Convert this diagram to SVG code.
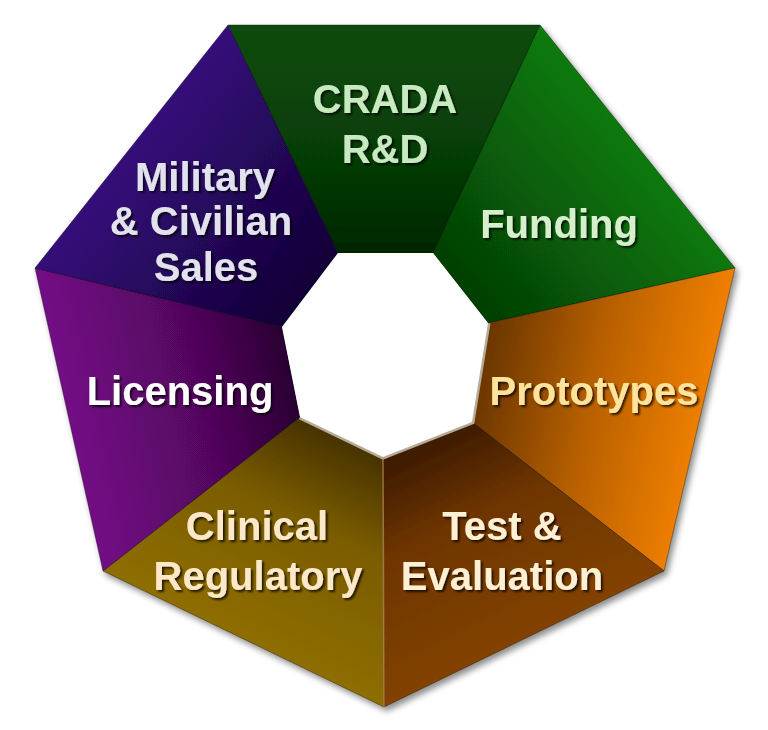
<svg xmlns="http://www.w3.org/2000/svg" width="768" height="730" viewBox="0 0 768 730">
  <defs>
    <linearGradient id="gCrada" gradientUnits="userSpaceOnUse" x1="384" y1="25" x2="385" y2="253">
      <stop offset="0" stop-color="#0a4c0a"/><stop offset="0.6" stop-color="#063c06"/><stop offset="1" stop-color="#012601"/>
    </linearGradient>
    <linearGradient id="gFund" gradientUnits="userSpaceOnUse" x1="660" y1="120" x2="455" y2="295">
      <stop offset="0" stop-color="#0a820a"/><stop offset="1" stop-color="#053c05"/>
    </linearGradient>
    <linearGradient id="gProto" gradientUnits="userSpaceOnUse" x1="705" y1="420" x2="480" y2="372">
      <stop offset="0" stop-color="#f08000"/><stop offset="0.5" stop-color="#b86000"/><stop offset="1" stop-color="#6a3600"/>
    </linearGradient>
    <linearGradient id="gTest" gradientUnits="userSpaceOnUse" x1="524" y1="639" x2="428" y2="440">
      <stop offset="0" stop-color="#824200"/><stop offset="0.6" stop-color="#6e3500"/><stop offset="1" stop-color="#3c1a00"/>
    </linearGradient>
    <linearGradient id="gClin" gradientUnits="userSpaceOnUse" x1="243" y1="639" x2="342" y2="437">
      <stop offset="0" stop-color="#8e6e00"/><stop offset="0.6" stop-color="#7a5c00"/><stop offset="1" stop-color="#463200"/>
    </linearGradient>
    <linearGradient id="gLic" gradientUnits="userSpaceOnUse" x1="69" y1="420" x2="291" y2="372">
      <stop offset="0" stop-color="#730a85"/><stop offset="0.6" stop-color="#52065e"/><stop offset="1" stop-color="#2a0032"/>
    </linearGradient>
    <linearGradient id="gMil" gradientUnits="userSpaceOnUse" x1="120" y1="140" x2="310" y2="290">
      <stop offset="0" stop-color="#380b7e"/><stop offset="1" stop-color="#110336"/>
    </linearGradient>
    <filter id="shadow" x="-10%" y="-10%" width="120%" height="125%">
      <feDropShadow dx="3" dy="4" stdDeviation="3" flood-color="#000" flood-opacity="0.45"/>
    </filter>
    <filter id="tshadow" x="-10%" y="-20%" width="120%" height="150%">
      <feDropShadow dx="2" dy="2" stdDeviation="1.2" flood-color="#000" flood-opacity="0.75"/>
    </filter>
  </defs>
  <style>
    .seg { stroke: #000; stroke-opacity: 0.35; stroke-width: 1; stroke-linejoin: round; }
    .lbl { font-family: "Liberation Sans", Arial, sans-serif; font-weight: bold; font-size: 40px; text-anchor: middle; filter: url(#tshadow); }
  </style>
  <rect width="768" height="730" fill="#fff"/>
  <g filter="url(#shadow)">
    <g id="crada">
      <polygon class="seg" points="228,25 540,25 433,253 338,253" fill="url(#gCrada)"/>
    </g>
    <g id="funding">
      <polygon class="seg" points="540,25 735,268 488,323 433,253" fill="url(#gFund)"/>
    </g>
    <g id="prototypes">
      <polygon class="seg" points="735,268 664,571 472,422 488,323" fill="url(#gProto)"/>
    </g>
    <g id="test">
      <polygon class="seg" points="664,571 384,707 383,457 472,422" fill="url(#gTest)"/>
    </g>
    <g id="clinical">
      <polygon class="seg" points="384,707 103,571 300,417 383,457" fill="url(#gClin)"/>
    </g>
    <g id="licensing">
      <polygon class="seg" points="103,571 35,268 282,327 300,417" fill="url(#gLic)"/>
    </g>
    <g id="military">
      <polygon class="seg" points="35,268 228,25 338,253 282,327" fill="url(#gMil)"/>
    </g>
  </g>
  <polyline points="488,323 472,422 383,457 300,417" fill="none" stroke="#b5ab98" stroke-width="5" stroke-linejoin="miter"/>
  <polyline points="383,457 384,707" fill="none" stroke="#c89060" stroke-width="1.5" stroke-opacity="0.7"/>
  <polygon points="338,253 433,253 488,323 472,422 383,457 300,417 282,327" fill="#fff"/>
  <g id="labels">
    <text class="lbl" fill="#c8eac0" x="385" y="113">CRADA</text>
    <text class="lbl" fill="#c8eac0" x="385" y="163">R&amp;D</text>
    <text class="lbl" fill="#d6f0cc" x="559" y="238">Funding</text>
    <text class="lbl" fill="#ffe39a" x="594" y="405">Prototypes</text>
    <text class="lbl" fill="#fff0d4" x="502" y="540">Test &amp;</text>
    <text class="lbl" fill="#fff0d4" x="502" y="590">Evaluation</text>
    <text class="lbl" fill="#fde8c8" x="257" y="540">Clinical</text>
    <text class="lbl" fill="#fde8c8" x="258" y="590">Regulatory</text>
    <text class="lbl" fill="#ffffff" x="180" y="405">Licensing</text>
    <text class="lbl" fill="#e2e2ee" x="205" y="191">Military</text>
    <text class="lbl" fill="#e2e2ee" x="201" y="235">&amp; Civilian</text>
    <text class="lbl" fill="#e2e2ee" x="206" y="281">Sales</text>
  </g>
</svg>
